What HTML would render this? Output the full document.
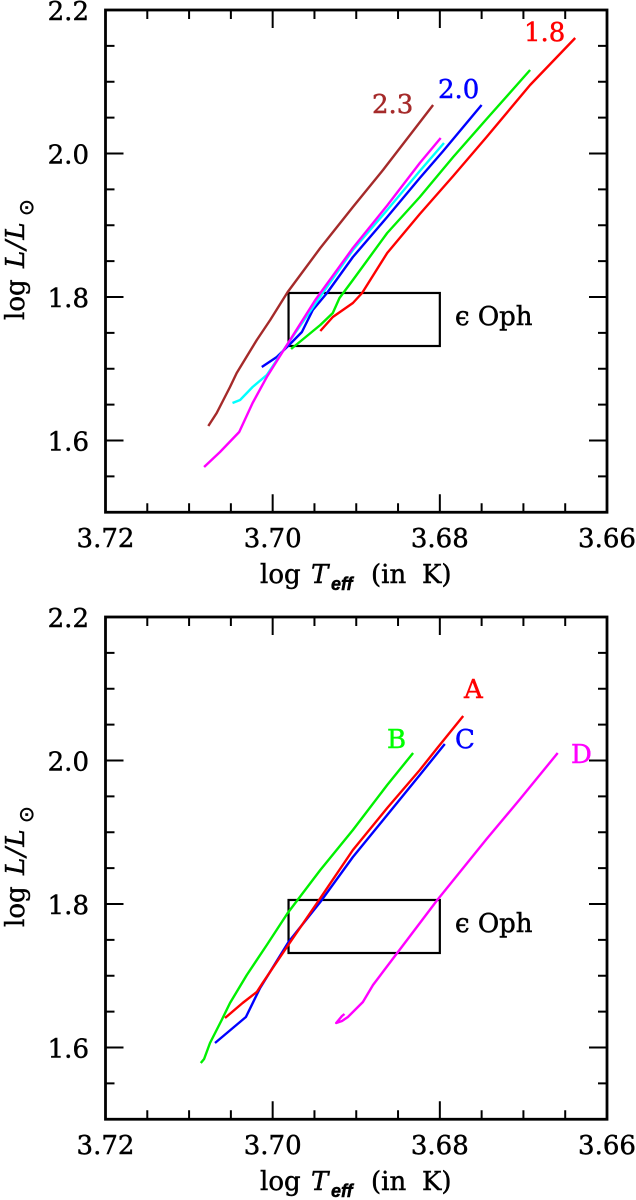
<!DOCTYPE html>
<html lang="en">
<head>
<meta charset="utf-8">
<title>HR diagram tracks for epsilon Oph</title>
<style>
html,body{margin:0;padding:0;background:#fff;}
svg{display:block;}
text{font-family:"DejaVu Serif","Liberation Serif",serif;fill:#000;stroke:#000;stroke-width:.45px;font-size:26px;}
.ital{font-style:italic;}
.sub{font-family:"Liberation Sans",sans-serif;font-weight:bold;font-style:italic;font-size:18px;}
.ll{letter-spacing:1.2px;}
.sun{font-family:"DejaVu Sans",sans-serif;font-size:20px;}
</style>
</head>
<body>
<svg id="chart" xmlns="http://www.w3.org/2000/svg" width="636" height="1200" viewBox="0 0 636 1200">
  <g id="panel-top">
    <text x="260" y="583">log</text>
    <text class="ital" x="311" y="583">T</text>
    <text class="sub" x="331" y="590">eff</text>
    <text x="371" y="583">(in</text>
    <text x="422" y="583">K)</text>
    <g transform="translate(24,0) rotate(-90)">
      <text x="-320" y="0">log</text>
      <text class="ital ll" x="-268" y="0">L/L</text>
      <text class="sun" x="-216" y="9">⊙</text>
    </g>
    <text x="372" y="113" style="fill:#a52a2a;stroke:#a52a2a">2.3</text>
    <text x="438" y="98" style="fill:#0000ff;stroke:#0000ff">2.0</text>
    <text x="524" y="41" style="fill:#ff0000;stroke:#ff0000">1.8</text>
    <text x="455" y="325">ϵ Oph</text>
  </g>
  <g id="panel-bottom">
    <text x="260" y="1190">log</text>
    <text class="ital" x="311" y="1190">T</text>
    <text class="sub" x="331" y="1197">eff</text>
    <text x="371" y="1190">(in</text>
    <text x="422" y="1190">K)</text>
    <g transform="translate(24,607) rotate(-90)">
      <text x="-320" y="0">log</text>
      <text class="ital ll" x="-268" y="0">L/L</text>
      <text class="sun" x="-216" y="9">⊙</text>
    </g>
    <text x="464" y="698" style="fill:#ff0000;stroke:#ff0000">A</text>
    <text x="387" y="748" style="fill:#00ff00;stroke:#00ff00">B</text>
    <text x="455" y="748" style="fill:#0000ff;stroke:#0000ff">C</text>
    <text x="571" y="763" style="fill:#ff00ff;stroke:#ff00ff">D</text>
    <text x="455" y="932">ϵ Oph</text>
  </g>
</svg>
<script>
// Axis tick values and labels
const xMajorTicks = [3.72, 3.70, 3.68, 3.66];
const xMajorLabels = ["3.72", "3.70", "3.68", "3.66"];
const xMinorTicks = [3.715, 3.71, 3.705, 3.695, 3.69, 3.685, 3.675, 3.67, 3.665];
const yMajorTicks = [2.2, 2.0, 1.8, 1.6];
const yMajorLabels = ["2.2", "2.0", "1.8", "1.6"];
const yMinorTicks = [2.15, 2.1, 2.05, 1.95, 1.9, 1.85, 1.75, 1.7, 1.65, 1.55];

// Observational box for epsilon Oph
const boxLogT = [3.6981, 3.68];
const boxLogL = [1.7317, 1.8056];

// Top panel tracks: [log Teff, log L]
const trackMass18 = [[3.6943,1.7526],[3.6928,1.7721],[3.6904,1.7916],[3.6893,1.8056],[3.6863,1.8613],[3.6824,1.9157],[3.6784,1.9686],[3.6744,2.0230],[3.6692,2.0955],[3.6638,2.1610]];
const trackMass19 = [[3.6978,1.7275],[3.6943,1.7610],[3.6928,1.7777],[3.6920,1.7986],[3.6904,1.8237],[3.6863,1.8892],[3.6824,1.9394],[3.6784,1.9951],[3.6744,2.0481],[3.6692,2.1164]];
const trackMass20 = [[3.7013,1.7024],[3.6995,1.7164],[3.6978,1.7359],[3.6965,1.7512],[3.6952,1.7819],[3.6935,1.8056],[3.6904,1.8557],[3.6863,1.9115],[3.6824,1.9659],[3.6796,2.0035],[3.6750,2.0676]];
const trackMass21 = [[3.7048,1.6523],[3.7039,1.6564],[3.7024,1.6746],[3.7007,1.6913],[3.6983,1.7331],[3.6940,1.8056],[3.6904,1.8655],[3.6863,1.9213],[3.6824,1.9756],[3.6795,2.0146]];
const trackMass22 = [[3.7082,1.5631],[3.7063,1.5840],[3.7040,1.6118],[3.7024,1.6523],[3.7007,1.6885],[3.6983,1.7331],[3.6949,1.7958],[3.6904,1.8683],[3.6863,1.9275],[3.6824,1.9868],[3.6799,2.0216]];
const trackMass23 = [[3.7077,1.6202],[3.7067,1.6383],[3.7051,1.6746],[3.7043,1.6941],[3.7019,1.7401],[3.7003,1.7679],[3.6982,1.8070],[3.6943,1.8683],[3.6904,1.9254],[3.6868,1.9770],[3.6808,2.0676]];

// Bottom panel tracks: [log Teff, log L]
const trackModelA = [[3.7057,1.6411],[3.7036,1.6620],[3.7019,1.6774],[3.7012,1.6899],[3.6983,1.7401],[3.6947,1.8014],[3.6904,1.8753],[3.6863,1.9338],[3.6824,1.9868],[3.6803,2.0174],[3.6772,2.0620]];
const trackModelB = [[3.7086,1.5784],[3.7082,1.5840],[3.7075,1.6063],[3.7061,1.6383],[3.7051,1.6620],[3.7031,1.7010],[3.7007,1.7429],[3.6982,1.7875],[3.6943,1.8474],[3.6904,1.9031],[3.6863,1.9659],[3.6832,2.0105]];
const trackModelC = [[3.7069,1.6063],[3.7032,1.6425],[3.7015,1.6829],[3.6981,1.7470],[3.6943,1.8028],[3.6904,1.8655],[3.6863,1.9240],[3.6824,1.9798],[3.6794,2.0230]];
const trackModelD = [[3.6914,1.6467],[3.6917,1.6439],[3.6924,1.6341],[3.6917,1.6369],[3.6910,1.6425],[3.6892,1.6634],[3.6880,1.6871],[3.6851,1.7317],[3.6803,1.8056],[3.6744,1.8906],[3.6704,1.9463],[3.6659,2.0105]];

const SVG_NS = "http://www.w3.org/2000/svg";
const FRAME_LEFT = 105.5, FRAME_RIGHT = 607, PX_PER_LOGL = 717.5;

function xScale(logT) { return FRAME_LEFT + (3.72 - logT) / 0.06 * (FRAME_RIGHT - FRAME_LEFT); }
function yScale(logL, top) { return top + (2.2 - logL) * PX_PER_LOGL; }

function makeLine(parent, x1, y1, x2, y2) {
  const el = document.createElementNS(SVG_NS, "line");
  el.setAttribute("x1", x1);
  el.setAttribute("y1", y1);
  el.setAttribute("x2", x2);
  el.setAttribute("y2", y2);
  el.setAttribute("stroke", "#000");
  el.setAttribute("stroke-width", "2");
  parent.appendChild(el);
  return el;
}

function makeLabel(parent, x, y, anchor, str) {
  const el = document.createElementNS(SVG_NS, "text");
  el.setAttribute("x", x);
  el.setAttribute("y", y);
  el.setAttribute("text-anchor", anchor);
  el.textContent = str;
  parent.appendChild(el);
  return el;
}

function drawTrack(parent, data, color, top) {
  const el = document.createElementNS(SVG_NS, "polyline");
  el.setAttribute("points", data.map(function (p) { return xScale(p[0]).toFixed(1) + "," + yScale(p[1], top).toFixed(1); }).join(" "));
  el.setAttribute("fill", "none");
  el.setAttribute("stroke", color);
  el.setAttribute("stroke-width", "2.4");
  el.setAttribute("stroke-linejoin", "round");
  parent.appendChild(el);
  return el;
}

function drawAxes(parent, top) {
  const bottom = yScale(1.5, top);
  xMajorTicks.forEach(function (v, i) {
    const x = xScale(v);
    const a = makeLine(parent, x, bottom, x, bottom - 18);
    
    
    const b = makeLine(parent, x, top, x, top + 18);
    
    
    const t = makeLabel(parent, x, bottom + 34.5, "middle", xMajorLabels[i]);
    
    
  });
  xMinorTicks.forEach(function (v) {
    const x = xScale(v);
    const a = makeLine(parent, x, bottom, x, bottom - 9);
    
    
    const b = makeLine(parent, x, top, x, top + 9);
    
    
  });
  yMajorTicks.forEach(function (v, i) {
    const y = yScale(v, top);
    const a = makeLine(parent, FRAME_LEFT, y, FRAME_LEFT + 18, y);
    
    
    const b = makeLine(parent, FRAME_RIGHT, y, FRAME_RIGHT - 18, y);
    
    
    const t = makeLabel(parent, 89, y + 10, "end", yMajorLabels[i]);
    
    
  });
  yMinorTicks.forEach(function (v) {
    const y = yScale(v, top);
    const a = makeLine(parent, FRAME_LEFT, y, FRAME_LEFT + 9, y);
    
    
    const b = makeLine(parent, FRAME_RIGHT, y, FRAME_RIGHT - 9, y);
    
    
  });
  const frame = document.createElementNS(SVG_NS, "rect");
  frame.setAttribute("x", FRAME_LEFT);
  frame.setAttribute("y", top);
  frame.setAttribute("width", FRAME_RIGHT - FRAME_LEFT);
  frame.setAttribute("height", bottom - top);
  frame.setAttribute("fill", "none");
  frame.setAttribute("stroke", "#000");
  frame.setAttribute("stroke-width", "2.8");
  
  
  parent.appendChild(frame);
}

function drawBox(parent, top) {
  const x0 = xScale(boxLogT[0]), x1 = xScale(boxLogT[1]);
  const y0 = yScale(boxLogL[1], top), y1 = yScale(boxLogL[0], top);
  const box = document.createElementNS(SVG_NS, "rect");
  box.setAttribute("x", x0);
  box.setAttribute("y", y0);
  box.setAttribute("width", x1 - x0);
  box.setAttribute("height", y1 - y0);
  box.setAttribute("fill", "none");
  box.setAttribute("stroke", "#000");
  box.setAttribute("stroke-width", "2.2");
  
  
  parent.appendChild(box);
}

const panelTop = document.getElementById("panel-top");
const panelBottom = document.getElementById("panel-bottom");
const TOP_A = 10, TOP_B = 617;

drawAxes(panelTop, TOP_A);
drawBox(panelTop, TOP_A);
const s18 = drawTrack(panelTop, trackMass18, "#ff0000", TOP_A);


const s19 = drawTrack(panelTop, trackMass19, "#00f000", TOP_A);


const s20 = drawTrack(panelTop, trackMass20, "#0000ff", TOP_A);


const s21 = drawTrack(panelTop, trackMass21, "#00ffff", TOP_A);


const s22 = drawTrack(panelTop, trackMass22, "#ff00ff", TOP_A);


const s23 = drawTrack(panelTop, trackMass23, "#a52a2a", TOP_A);



drawAxes(panelBottom, TOP_B);
drawBox(panelBottom, TOP_B);
const mB = drawTrack(panelBottom, trackModelB, "#00f000", TOP_B);


const mC = drawTrack(panelBottom, trackModelC, "#0000ff", TOP_B);


const mA = drawTrack(panelBottom, trackModelA, "#ff0000", TOP_B);


const mD = drawTrack(panelBottom, trackModelD, "#ff00ff", TOP_B);


</script>
</body>
</html>
